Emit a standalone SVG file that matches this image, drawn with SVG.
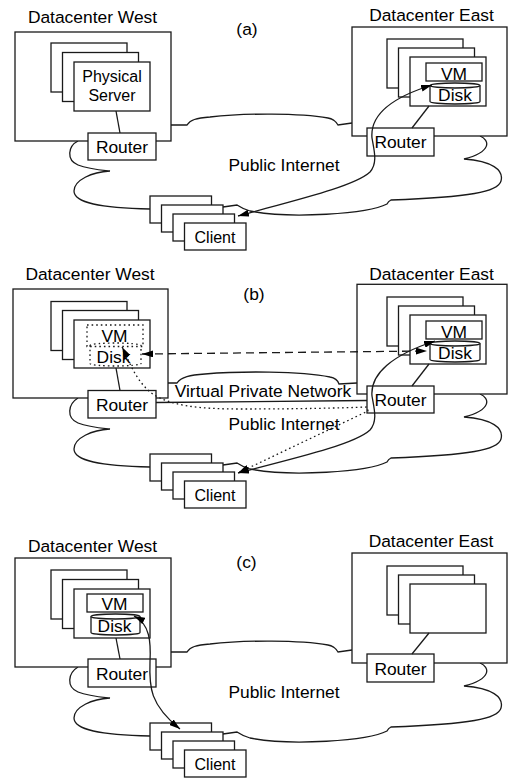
<svg xmlns="http://www.w3.org/2000/svg" width="508" height="778" viewBox="0 0 508 778">
<defs>
<style>
.box{fill:#fff;stroke:#1a1a1a;stroke-width:1.3}
.ln{fill:none;stroke:#1a1a1a;stroke-width:1.3}
.dot{fill:none;stroke:#1a1a1a;stroke-width:1.3;stroke-dasharray:1.6,3}
.dash{fill:none;stroke:#1a1a1a;stroke-width:1.3;stroke-dasharray:8,5}
.arr{marker-start:url(#ah);marker-end:url(#ah)}
text{font-family:"Liberation Sans",Arial,Helvetica,sans-serif;font-size:17.4px;fill:#000;text-anchor:middle}
.sm{font-size:16px}
</style>
<marker id="ah" viewBox="0 0 11 7" refX="11" refY="3.5" markerWidth="11" markerHeight="7" markerUnits="userSpaceOnUse" orient="auto-start-reverse">
<path d="M0,0L11,3.5L0,7z" fill="#000"/>
</marker>
</defs>
<rect width="508" height="778" fill="#fff"/>

<!-- Panel (a) -->
<g id="panel-a">
  <text id="a-label" x="247" y="35">(a)</text>
  <g id="a-internet">
    <path class="ln" d="M171,125 L187,125 C190,120 196,118 210,117 C245,113 300,113 328,118 C334,119 336,122 338,125 L352,123"/>
    <path class="ln" d="M480,136 C490,140 492,152 464,159 C492,161 504,170 501,181 C498,192 470,197 391,200 C389,201 388,202 387,204 C368,214 290,219 250,211 C243,209 240,207 237,205 L223,207"/>
    <path class="ln" d="M78,141 C68,146 66,160 78,165 C88,169 100,170 110,171 C92,172 74,180 74,191 C74,203 100,208 150,209"/>
    <text x="284" y="171">Public Internet</text>
  </g>
  <g id="a-dc-west">
    <text x="92.5" y="22.5">Datacenter West</text>
    <rect class="box" x="15" y="32" width="156" height="109"/>
  </g>
  <g id="a-servers-west">
    <rect class="box" x="51" y="43" width="76" height="49"/>
    <rect class="box" x="62.5" y="52.5" width="76" height="49"/>
    <rect class="box" x="74" y="62" width="76" height="49"/>
    <text class="sm" x="112" y="82">Physical</text>
    <text class="sm" x="112" y="101">Server</text>
  </g>
  <g id="a-router-west">
    <rect class="box" x="88" y="133" width="68" height="27"/>
    <text x="122" y="153">Router</text>
  </g>
  <g id="a-dc-east">
    <text x="431.5" y="20.5">Datacenter East</text>
    <rect class="box" x="352" y="27" width="155" height="109"/>
  </g>
  <g id="a-servers-east">
    <rect class="box" x="387" y="39" width="76" height="49"/>
    <rect class="box" x="398.5" y="48" width="76" height="49"/>
    <rect class="box" x="410" y="57" width="76" height="49"/>
    <rect class="box" x="426" y="63" width="56" height="18"/>
    <text x="454" y="79.5">VM</text>
    <path class="box" d="M430,85.5 A25,2.5 0 0 1 480,85.5 V101.5 A25,2.5 0 0 1 430,101.5 Z"/>
    <path class="ln" d="M430,85.5 A25,2.5 0 0 0 480,85.5"/>
    <text x="455" y="101">Disk</text>
  </g>
  <g id="a-router-east">
    <rect class="box" x="367" y="128" width="67" height="28"/>
    <text x="400.5" y="148">Router</text>
  </g>
  <g id="a-clients">
    <rect class="box" x="150" y="196" width="61.5" height="27"/>
    <rect class="box" x="161.5" y="205" width="61.5" height="27"/>
    <rect class="box" x="173" y="214" width="61.5" height="27"/>
    <rect class="box" x="184.5" y="223" width="61.5" height="27"/>
    <text class="sm" x="215" y="243">Client</text>
  </g>
  <g id="a-connectors">
    <line class="ln" x1="116" y1="111" x2="120" y2="133"/>
    <line class="ln" x1="429" y1="106" x2="412" y2="128"/>
    <path class="ln arr" d="M238,216 C300,199 355,186 370,172 C378,163 374,150 372,138 C370,116 390,98 432,85"/>
  </g>
</g>

<!-- Panel (b) -->
<g id="panel-b" transform="translate(0,258)">
  <text id="b-label" x="254" y="42">(b)</text>
  <g id="b-internet">
    <path class="ln" d="M156,144.5 L367,142.5"/>
    <path class="ln" d="M480,136 C490,140 492,152 464,159 C492,161 504,170 501,181 C498,192 470,197 391,200 C389,201 388,202 387,204 C368,214 290,219 250,211 C243,209 240,207 237,205 L223,207"/>
    <path class="ln" d="M78,140 C68,146 66,160 78,165 C88,169 100,170 110,171 C92,172 74,180 74,191 C74,203 100,208 150,209"/>
    <text x="284" y="172">Public Internet</text>
  </g>
  <g id="b-vpn">
    <path class="ln" d="M168,125 L177,125 C181,119 190,117 205,116 C240,113 300,113 330,119 C336,120 338,123 339,126 L357,125"/>
    <text x="263" y="139">Virtual Private Network</text>
  </g>
  <g id="b-dc-west">
    <text x="90" y="22">Datacenter West</text>
    <rect class="box" x="13" y="31" width="155" height="109"/>
  </g>
  <g id="b-servers-west">
    <rect class="box" x="51" y="43.5" width="76" height="49"/>
    <rect class="box" x="62.5" y="52.5" width="76" height="49"/>
    <rect class="box" x="74" y="62" width="76" height="48"/>
    <rect class="dot" x="87" y="67" width="56" height="21.5"/>
    <text x="114.5" y="84">VM</text>
    <path class="dot" d="M90,87.5 A25.5,2.5 0 0 1 141,87.5 V105.5 A25.5,2.5 0 0 1 90,105.5 Z"/>
    <text x="113.5" y="105">Disk</text>
  </g>
  <g id="b-router-west">
    <rect class="box" x="88" y="132.5" width="68" height="27.5"/>
    <text x="122" y="153">Router</text>
  </g>
  <g id="b-dc-east">
    <text x="431.5" y="22">Datacenter East</text>
    <rect class="box" x="357" y="26.3" width="150" height="109.7"/>
  </g>
  <g id="b-servers-east">
    <rect class="box" x="387" y="39" width="76" height="49"/>
    <rect class="box" x="398.5" y="48" width="76" height="49"/>
    <rect class="box" x="410" y="57" width="76" height="49"/>
    <rect class="box" x="426" y="63" width="56" height="18"/>
    <text x="454" y="79.5">VM</text>
    <path class="box" d="M430,85.5 A25,2.5 0 0 1 480,85.5 V101.5 A25,2.5 0 0 1 430,101.5 Z"/>
    <path class="ln" d="M430,85.5 A25,2.5 0 0 0 480,85.5"/>
    <text x="455" y="101">Disk</text>
  </g>
  <g id="b-router-east">
    <rect class="box" x="367" y="128" width="67" height="27"/>
    <text x="400.5" y="148">Router</text>
  </g>
  <g id="b-clients">
    <rect class="box" x="150" y="196" width="61.5" height="27"/>
    <rect class="box" x="161.5" y="205" width="61.5" height="27"/>
    <rect class="box" x="173" y="214" width="61.5" height="27"/>
    <rect class="box" x="184.5" y="223" width="61.5" height="27"/>
    <text class="sm" x="215" y="243">Client</text>
  </g>
  <g id="b-connectors">
    <line class="ln" x1="116" y1="110" x2="120" y2="132.5"/>
    <line class="ln" x1="429" y1="106" x2="412" y2="128"/>
    <path class="dash arr" d="M142,96 L427,93"/>
    <path class="dot arr" d="M122,89 C128,100 134,120 150,134 C168,148 200,151 240,151 C300,151 340,150 367,149 L368,153 L238,215"/>
    <path class="ln arr" d="M238,215 C300,199 355,186 370,172 C378,163 374,150 372,138 C370,116 392,97 435,83"/>
  </g>
</g>

<!-- Panel (c) -->
<g id="panel-c" transform="translate(0,527)">
  <text id="c-label" x="246.5" y="41">(c)</text>
  <g id="c-internet">
    <path class="ln" d="M171,125 L187,125 C190,120 196,118 210,117 C245,113 300,113 328,118 C334,119 336,122 338,125 L352,123"/>
    <path class="ln" d="M480,136 C490,140 492,152 464,159 C492,161 504,170 501,181 C498,192 470,197 391,200 C389,201 388,202 387,204 C368,214 290,219 250,211 C243,209 240,207 237,205 L223,207"/>
    <path class="ln" d="M78,140 C68,146 66,160 78,165 C88,169 100,170 110,171 C92,172 74,180 74,191 C74,203 100,208 150,209"/>
    <text x="284" y="171">Public Internet</text>
  </g>
  <g id="c-dc-west">
    <text x="92.5" y="24.5">Datacenter West</text>
    <rect class="box" x="15" y="31" width="156" height="109"/>
  </g>
  <g id="c-servers-west">
    <rect class="box" x="51" y="43" width="76" height="49"/>
    <rect class="box" x="62.5" y="52.5" width="76" height="49"/>
    <rect class="box" x="74" y="62" width="76" height="49"/>
    <rect class="box" x="87" y="67" width="56" height="18"/>
    <text x="114.5" y="83">VM</text>
    <path class="box" d="M91,89.5 A24.5,2.5 0 0 1 140,89.5 V105.5 A24.5,2.5 0 0 1 91,105.5 Z"/>
    <path class="ln" d="M91,89.5 A24.5,2.5 0 0 0 140,89.5"/>
    <text x="114.5" y="105">Disk</text>
  </g>
  <g id="c-router-west">
    <rect class="box" x="88" y="132" width="68" height="28"/>
    <text x="122" y="152.5">Router</text>
  </g>
  <g id="c-dc-east">
    <text x="431" y="20">Datacenter East</text>
    <rect class="box" x="352" y="26" width="155" height="110"/>
  </g>
  <g id="c-servers-east">
    <rect class="box" x="387" y="39" width="76" height="49"/>
    <rect class="box" x="398.5" y="48" width="76" height="49"/>
    <rect class="box" x="410" y="57" width="76" height="49"/>
  </g>
  <g id="c-router-east">
    <rect class="box" x="367" y="127" width="67" height="28"/>
    <text x="400.5" y="148">Router</text>
  </g>
  <g id="c-clients">
    <rect class="box" x="150" y="196" width="61.5" height="27"/>
    <rect class="box" x="161.5" y="205" width="61.5" height="27"/>
    <rect class="box" x="173" y="214" width="61.5" height="27"/>
    <rect class="box" x="184.5" y="223" width="61.5" height="27"/>
    <text class="sm" x="215" y="243">Client</text>
  </g>
  <g id="c-connectors">
    <line class="ln" x1="116" y1="111" x2="120" y2="132"/>
    <line class="ln" x1="429" y1="106" x2="412" y2="127"/>
    <path class="ln arr" d="M134,89 C150,97 151,115 150,135 C149,160 150,178 180,202"/>
  </g>
</g>
</svg>
